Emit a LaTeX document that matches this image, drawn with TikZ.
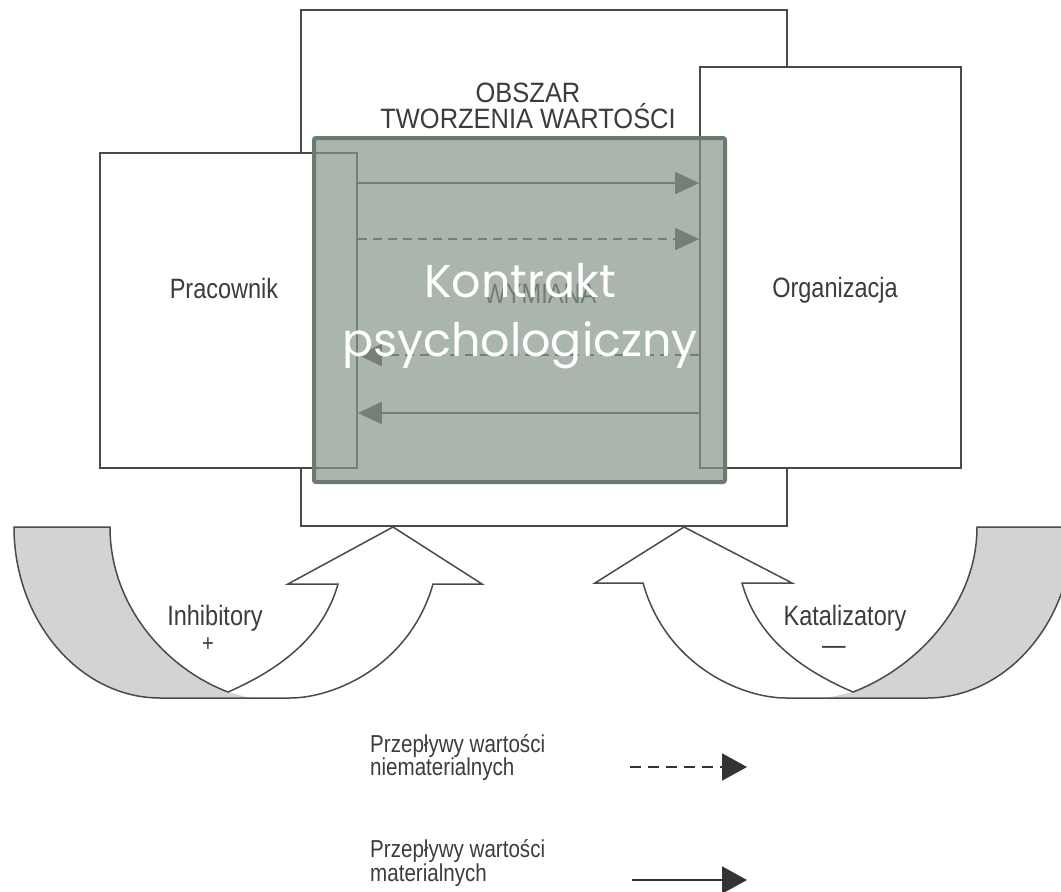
\documentclass[tikz,border=0pt]{standalone}
\usepackage{fontspec}
\setmainfont{Liberation Sans}
\newfontfamily\narrowsans[FakeStretch=0.84]{Liberation Sans}
\newfontfamily\headsans[FakeStretch=0.91]{Liberation Sans}
\newfontfamily\kontraktfont{Poppins}
\usetikzlibrary{arrows.meta}

\definecolor{linegray}{HTML}{4A4A4A}
\definecolor{textgray}{HTML}{3C3C3C}
\definecolor{bandgray}{HTML}{D2D3D5}
\definecolor{legendgray}{HTML}{333333}
\definecolor{kontraktfill}{RGB}{135,152,139}
\definecolor{kontraktborder}{HTML}{6C796F}

\begin{document}
\begin{tikzpicture}[x=1pt, y=-1pt,
  box/.style={draw=linegray, line width=1.6pt, fill=white, inner sep=0pt},
  boxtext/.style={text=textgray, font=\narrowsans\fontsize{28}{30}\selectfont, inner sep=0pt, anchor=base},
  headtext/.style={text=textgray, font=\headsans\fontsize{28}{30}\selectfont, inner sep=0pt, anchor=base},
  legendtext/.style={text=textgray, font=\narrowsans\fontsize{24.5}{26}\selectfont, inner sep=0pt, anchor=base west},
  flow/.style={draw=linegray, line width=1.8pt, -{Triangle[length=24pt,width=22pt]}},
  legendflow/.style={draw=legendgray, line width=2pt, -{Triangle[length=25pt,width=27pt]}},
  dashflow/.style={dash pattern=on 9pt off 6pt},
  ushape/.style={draw=linegray, line width=1.5pt},
  kontrakt/.style={draw=kontraktborder, line width=4pt, fill=kontraktfill, fill opacity=0.7, draw opacity=1, rounded corners=2pt, inner sep=0pt},
  kontrakttext/.style={text=white, align=center, font=\kontraktfont\fontsize{46}{59}\selectfont, inner sep=0pt}]
\clip (0,0) rectangle (1061,892);
% value creation area
\node[box, minimum width=486pt, minimum height=516pt] (area) at (544,268) {};
\node[headtext] (obszar) at (528,102) {OBSZAR};
\node[headtext] (tworzenia) at (528,128) {TWORZENIA WARTOŚCI};
\node[box, minimum width=257pt, minimum height=315pt] (prac) at (228.5,310.5) {};
\node[box, minimum width=261pt, minimum height=401pt] (org) at (830.5,267.5) {};
\node[boxtext] (pracownik) at (224,298) {Pracownik};
\node[boxtext] (organizacja) at (835,297) {Organizacja};
\node[boxtext] (wymiana) at (540,303) {WYMIANA};
\foreach \y/\st in {183/solid, 239/dashflow} \draw[flow,\st] (prac.east |- 0,\y) -- (org.west |- 0,\y);
\foreach \y/\st in {355/dashflow, 413/solid} \draw[flow,\st] (org.west |- 0,\y) -- (prac.east |- 0,\y);
% inhibitors
\fill[white] (14,527) .. controls (14,621) and (80,698) .. (160,698) -- (290,698) .. controls (335,698) and (410,665) .. (433,584) -- (482,584) -- (393,527) -- (288,584) -- (338,584) .. controls (325,630) and (290,665) .. (228,692) .. controls (165,668) and (110,605) .. (110,527) -- cycle;
\fill[bandgray] (14,527) .. controls (14,621) and (80,698) .. (160,698) -- (250,698) -- (228,692) .. controls (165,668) and (110,605) .. (110,527) -- cycle;
\draw[ushape] (14,527) .. controls (14,621) and (80,698) .. (160,698) -- (290,698) .. controls (335,698) and (410,665) .. (433,584) -- (482,584) -- (393,527) -- (288,584) -- (338,584) .. controls (325,630) and (290,665) .. (228,692) .. controls (165,668) and (110,605) .. (110,527) -- cycle;
\node[boxtext] (inhibitory) at (215,625) {Inhibitory};
\node[text=textgray, font=\narrowsans\fontsize{24}{26}\selectfont, inner sep=0pt, text height=6pt, text depth=0pt] (plus) at (208,648) {+};
% catalysts
\fill[white] (1073,527) .. controls (1073,621) and (1007,698) .. (927,698) -- (786,698) .. controls (741,698) and (666,665) .. (643,583) -- (595,583) -- (684,527) -- (792,583) -- (742,583) .. controls (755,630) and (790,665) .. (853,692) .. controls (916,668) and (977,605) .. (977,527) -- cycle;
\fill[bandgray] (1073,527) .. controls (1073,621) and (1007,698) .. (927,698) -- (827,698) -- (853,692) .. controls (916,668) and (977,605) .. (977,527) -- cycle;
\draw[ushape] (1073,527) .. controls (1073,621) and (1007,698) .. (927,698) -- (786,698) .. controls (741,698) and (666,665) .. (643,583) -- (595,583) -- (684,527) -- (792,583) -- (742,583) .. controls (755,630) and (790,665) .. (853,692) .. controls (916,668) and (977,605) .. (977,527) -- cycle;
\node[boxtext] (katalizatory) at (845,625) {Katalizatory};
\node[text=textgray, font=\narrowsans\fontsize{28}{30}\selectfont, inner sep=0pt, anchor=base] (minus) at (834,654) {—};
% legend
\node[legendtext] (niem1) at (370,752) {Przepływy wartości};
\node[legendtext] (niem2) at (370,775) {niematerialnych};
\coordinate (niemA) at (630,767);
\coordinate (niemB) at (747,767);
\draw[legendflow, dash pattern=on 11pt off 7pt] (niemA) -- (niemB);
\node[legendtext] (mat1) at (370,857) {Przepływy wartości};
\node[legendtext] (mat2) at (370,881) {materialnych};
\coordinate (matA) at (632,880);
\coordinate (matB) at (747,880);
\draw[legendflow] (matA) -- (matB);
% psychological contract
\node[kontrakt, minimum width=411pt, minimum height=344pt] (overlay) at (519.5,310) {};
\node[kontrakttext] (kontrakttxt) at (520,316) {Kontrakt\\psychologiczny};
\end{tikzpicture}
\end{document}
